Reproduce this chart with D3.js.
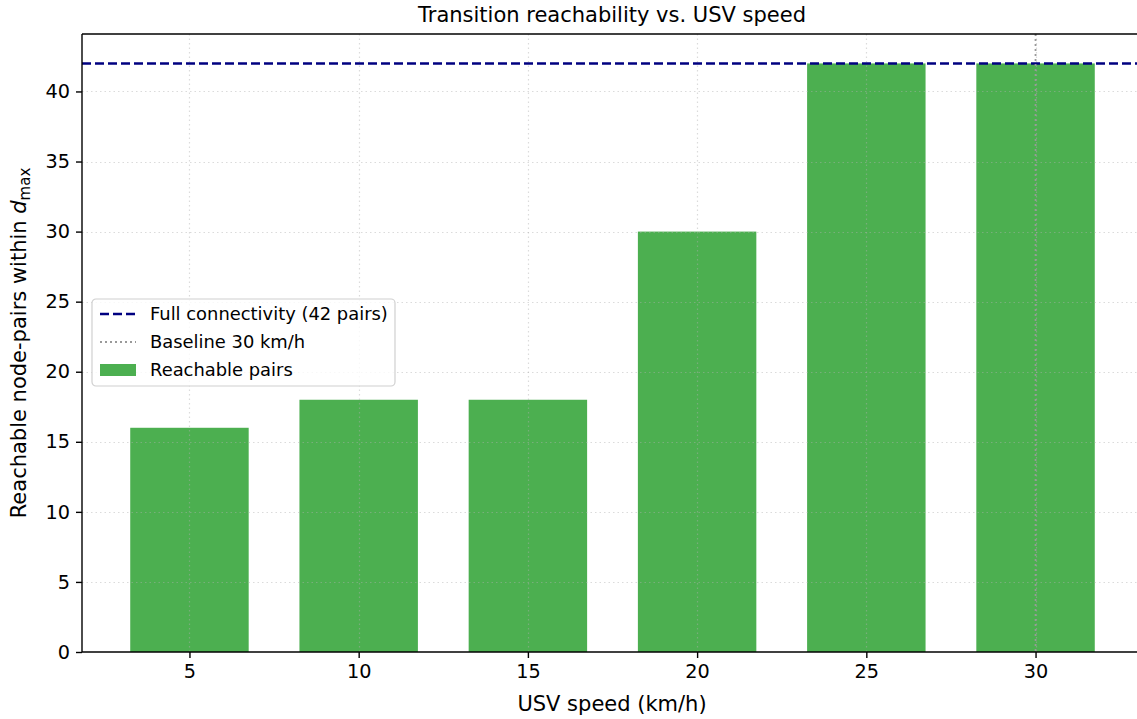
<!DOCTYPE html>
<html>
<head>
<meta charset="utf-8">
<script src="https://cdn.jsdelivr.net/npm/d3@7"></script>
<style>
  body { margin: 0; background: #fff; }
  text { font-family: "DejaVu Sans", sans-serif; fill: #000; }
</style>
</head>
<body>
<script>
// data
var speeds = [5, 10, 15, 20, 25, 30];
var reachable = [16, 18, 18, 30, 42, 42];
var yTicks = [0, 5, 10, 15, 20, 25, 30, 35, 40];
var fullPairs = 42;
var baselineSpeed = 30;
var barWidth = 3.5;

var width = 1137, height = 719;
var plotLeft = 82, plotTop = 34, plotBottom = 652, plotRight = 1143;

var svg = d3.select('body').append('svg').attr('width', width).attr('height', height);

var x = d3.scaleLinear().domain([1.825, 33.175]).range([plotLeft, plotRight]);
var y = d3.scaleLinear().domain([0, 44.1]).range([plotBottom, plotTop]);

svg.append('clipPath').attr('id', 'plot')
    .append('rect').attr('x', plotLeft).attr('y', plotTop)
    .attr('width', plotRight - plotLeft).attr('height', plotBottom - plotTop);

var g = svg.append('g').attr('clip-path', 'url(#plot)');

// bars
g.selectAll('rect.bar')
    .data(speeds)
    .enter().append('rect')
    .attr('class', 'bar')
    .attr('x', function (d) { return x(d - barWidth / 2); })
    .attr('width', function (d) { return x(d + barWidth / 2) - x(d - barWidth / 2); })
    .attr('y', function (d, i) { return y(reachable[i]); })
    .attr('height', function (d, i) { return y(0) - y(reachable[i]); })
    .attr('fill', '#4CAF50');

// grid (drawn above bars, faint)
g.selectAll('line.gx').data(speeds).enter().append('line')
    .attr('x1', function (d) { return Math.round(x(d)) + 0.5; })
    .attr('x2', function (d) { return Math.round(x(d)) + 0.5; })
    .attr('y1', plotTop).attr('y2', plotBottom)
    .attr('stroke', '#b0b0b0').attr('stroke-opacity', 0.45)
    .attr('stroke-dasharray', '1.5,3').attr('stroke-width', 1.2);

g.selectAll('line.gy').data(yTicks).enter().append('line')
    .attr('y1', function (d) { return Math.round(y(d)) + 0.5; })
    .attr('y2', function (d) { return Math.round(y(d)) + 0.5; })
    .attr('x1', plotLeft).attr('x2', plotRight)
    .attr('stroke', '#b0b0b0').attr('stroke-opacity', 0.45)
    .attr('stroke-dasharray', '1.5,3').attr('stroke-width', 1.2);

// full connectivity line
g.append('line')
    .attr('x1', plotLeft).attr('x2', plotRight)
    .attr('y1', y(fullPairs)).attr('y2', y(fullPairs))
    .attr('stroke', '#000080').attr('stroke-width', 2.4)
    .attr('stroke-dasharray', '9,4');

// baseline speed line
g.append('line')
    .attr('x1', x(baselineSpeed)).attr('x2', x(baselineSpeed))
    .attr('y1', plotTop).attr('y2', plotBottom)
    .attr('stroke', '#999').attr('stroke-width', 1.8)
    .attr('stroke-dasharray', '2,3');

// axes
var xAxis = svg.append('g').attr('transform', 'translate(0,' + plotBottom + ')')
    .call(d3.axisBottom(x).tickValues(speeds).tickSize(6).tickPadding(6).tickFormat(d3.format('d')));
var yAxis = svg.append('g').attr('transform', 'translate(' + plotLeft + ',0)')
    .call(d3.axisLeft(y).tickValues(yTicks).tickSize(6).tickPadding(6).tickFormat(d3.format('d')));
[xAxis, yAxis].forEach(function (a) {
    a.selectAll('text').style('font-size', '19.25px').attr('fill', '#000');
    a.selectAll('line').attr('stroke', '#000').attr('stroke-width', 1.4);
    a.select('.domain').remove();
});

// spines
svg.append('line').attr('x1', plotLeft).attr('x2', plotLeft).attr('y1', plotTop).attr('y2', plotBottom)
    .attr('stroke', '#000').attr('stroke-width', 1.4);
svg.append('line').attr('x1', plotLeft).attr('x2', width).attr('y1', plotBottom).attr('y2', plotBottom)
    .attr('stroke', '#000').attr('stroke-width', 1.4);
svg.append('line').attr('x1', plotLeft).attr('x2', width).attr('y1', plotTop).attr('y2', plotTop)
    .attr('stroke', '#000').attr('stroke-width', 1.4);

// title and labels
svg.append('text')
    .attr('x', 612).attr('y', 22)
    .attr('text-anchor', 'middle')
    .style('font-size', '21px')
    .text('Transition reachability vs. USV speed');

svg.append('text')
    .attr('x', 612).attr('y', 711)
    .attr('text-anchor', 'middle')
    .style('font-size', '21px')
    .text('USV speed (km/h)');

var yl = svg.append('text')
    .attr('transform', 'translate(26,' + (plotTop + plotBottom) / 2 + ') rotate(-90)')
    .attr('text-anchor', 'middle')
    .style('font-size', '21px');
yl.append('tspan').text('Reachable node-pairs within ');
yl.append('tspan').style('font-style', 'italic').text('d');
yl.append('tspan').attr('dy', 4).style('font-size', '15px').text('max');

// legend
var lg = svg.append('g').attr('transform', 'translate(92,299)');
lg.append('rect').attr('width', 303).attr('height', 87).attr('rx', 4)
    .attr('fill', '#fff').attr('fill-opacity', 0.8)
    .attr('stroke', '#d0d0d0').attr('stroke-width', 1.2);

var legendItems = [
    { label: 'Full connectivity (42 pairs)', kind: 'dash' },
    { label: 'Baseline 30 km/h', kind: 'dot' },
    { label: 'Reachable pairs', kind: 'bar' }
];
legendItems.forEach(function (it, i) {
    var cy = 15 + i * 28;
    if (it.kind === 'dash') {
        lg.append('line').attr('x1', 8).attr('x2', 44).attr('y1', cy).attr('y2', cy)
            .attr('stroke', '#000080').attr('stroke-width', 2.4).attr('stroke-dasharray', '9,4');
    } else if (it.kind === 'dot') {
        lg.append('line').attr('x1', 8).attr('x2', 44).attr('y1', cy).attr('y2', cy)
            .attr('stroke', '#999').attr('stroke-width', 1.8).attr('stroke-dasharray', '2,3');
    } else {
        lg.append('rect').attr('x', 8).attr('y', cy - 6).attr('width', 36).attr('height', 12)
            .attr('fill', '#4CAF50');
    }
    lg.append('text').attr('x', 58).attr('y', cy + 6)
        .style('font-size', '17.9px').text(it.label);
});
</script>
</body>
</html>
